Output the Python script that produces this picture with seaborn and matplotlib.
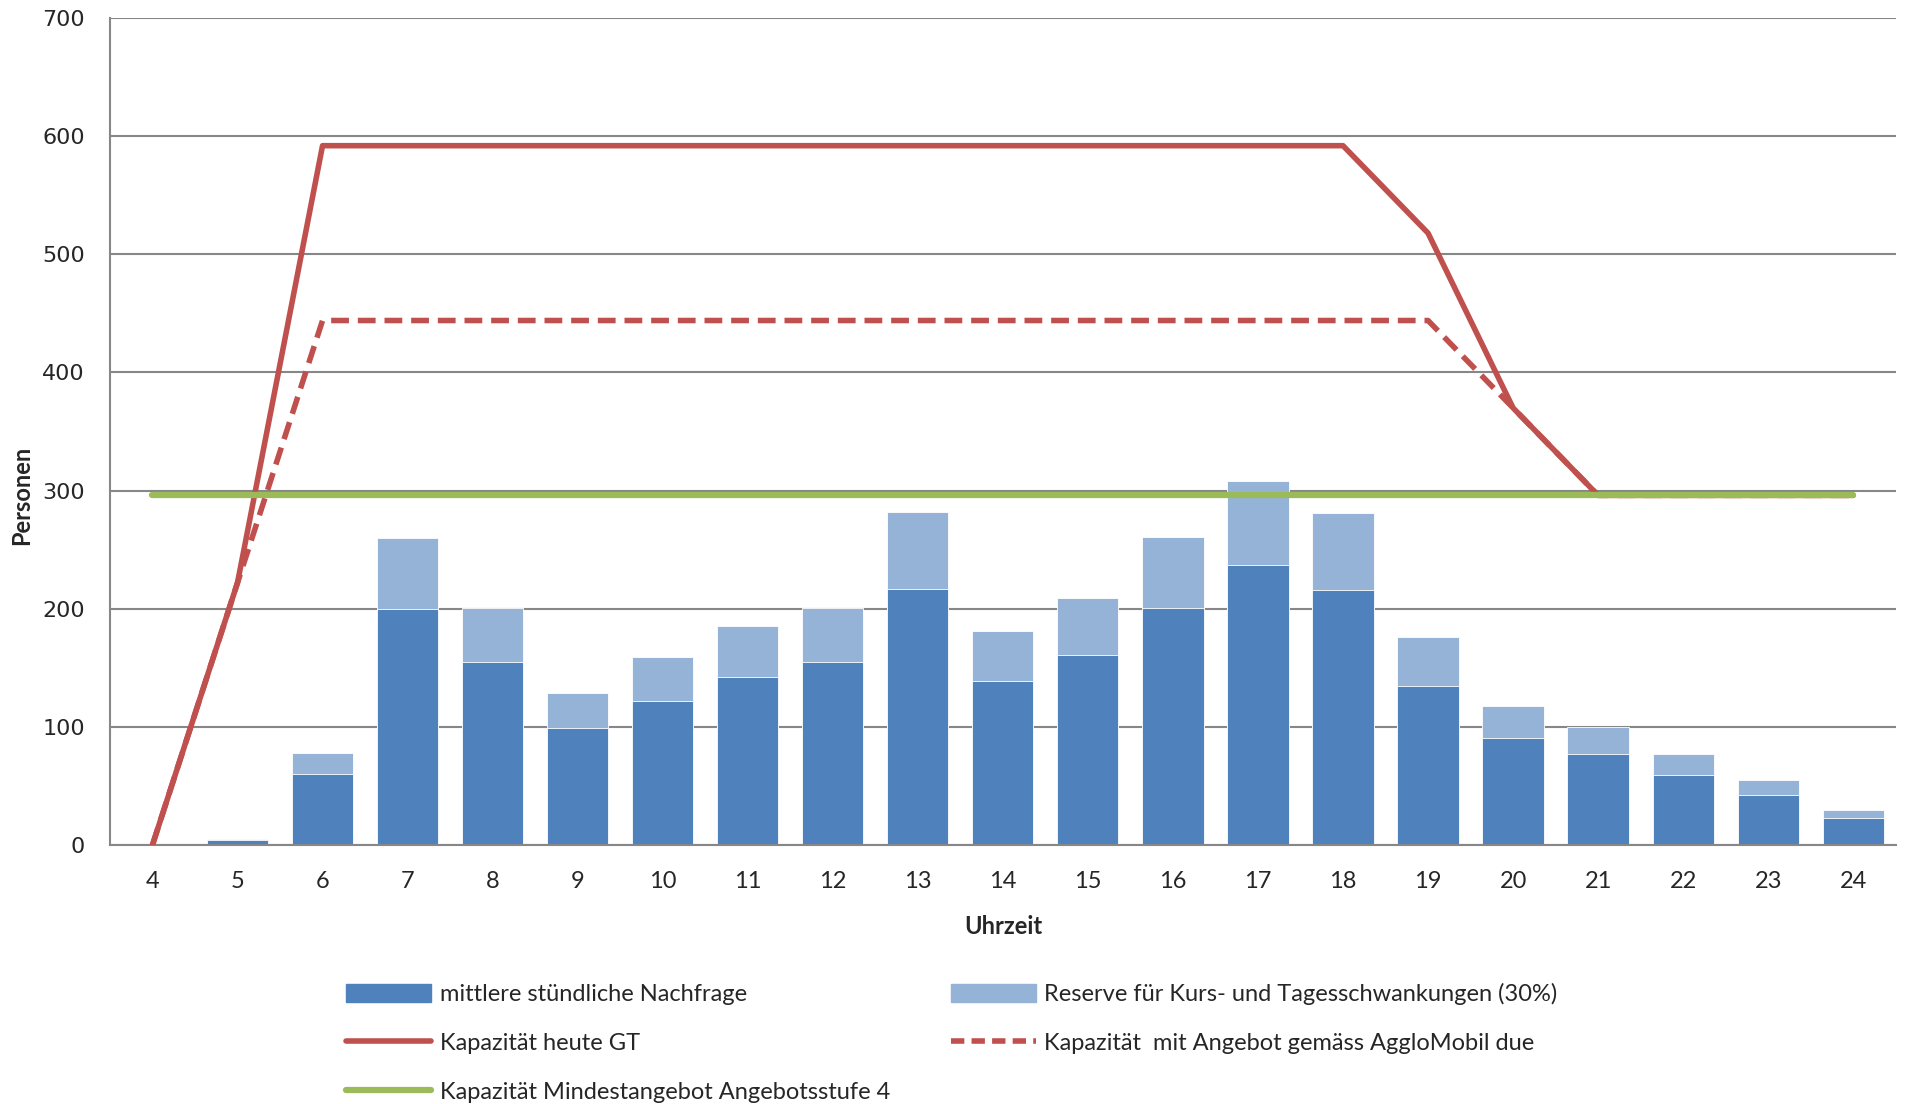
import numpy as np
import pandas as pd
import seaborn as sns
import matplotlib.pyplot as plt
from matplotlib.patches import Patch
from matplotlib.lines import Line2D

# data
hours = [4, 5, 6, 7, 8, 9, 10, 11, 12, 13, 14, 15, 16, 17, 18, 19, 20, 21, 22, 23, 24]
demand = [0, 4, 60, 200, 155, 99, 122, 142, 155, 217, 139, 161, 201, 237, 216, 135, 91, 77, 59, 42, 23]
reserve = [0, 1.5, 18, 60, 46, 30, 37, 43, 46, 65, 42, 48, 60, 71, 65, 41, 27, 23, 18, 13, 7]
cap_today = [0, 222, 592, 592, 592, 592, 592, 592, 592, 592, 592, 592, 592, 592, 592, 518, 370, 296, 296, 296, 296]
cap_agglo = [0, 222, 444, 444, 444, 444, 444, 444, 444, 444, 444, 444, 444, 444, 444, 444, 370, 296, 296, 296, 296]
cap_min = [296] * 21

c_demand = '#4F81BD'
c_reserve = '#95B3D7'
c_red = '#C0504D'
c_green = '#9BBB59'
c_grid = '#878787'

sns.set_style('white')
plt.rcParams['font.family'] = ['Lato', 'DejaVu Sans']

df = pd.DataFrame({'hour': hours, 'demand': demand, 'reserve': reserve,
                   'today': cap_today, 'agglo': cap_agglo, 'min': cap_min})
df['total'] = df['demand'] + df['reserve']

fig = plt.figure(figsize=(19.12, 11.04), dpi=100)
ax = fig.add_axes([0.0575, 0.2346, 0.934, 0.749])

sns.barplot(data=df, x='hour', y='total', native_scale=True, color=c_reserve,
            saturation=1, width=0.72, edgecolor='white', linewidth=0.6, ax=ax, zorder=2)
sns.barplot(data=df, x='hour', y='demand', native_scale=True, color=c_demand,
            saturation=1, width=0.72, edgecolor='white', linewidth=0.6, ax=ax, zorder=2)

sns.lineplot(data=df, x='hour', y='today', color=c_red, lw=4, ax=ax, zorder=3)
sns.lineplot(data=df, x='hour', y='agglo', color=c_red, lw=4, ax=ax, zorder=3,
             dashes=False, linestyle=(0, (3.2, 1.6)))
sns.lineplot(data=df, x='hour', y='min', color=c_green, lw=4.5, ax=ax, zorder=4,
             solid_capstyle='round')

ax.set_xlim(3.5, 24.5)
ax.set_ylim(0, 700)
ax.set_yticks(range(0, 701, 100))
ax.set_xticks(hours)
ax.set_xticks(np.arange(3.5, 25, 1), minor=True)
ax.tick_params(axis='x', which='major', length=0, pad=19, labelsize=17)
ax.tick_params(axis='x', which='minor', length=8, width=1.5, color=c_grid, direction='out')
ax.tick_params(axis='y', length=8, width=1.5, color=c_grid, direction='out', pad=10)
for lab in ax.get_yticklabels():
    lab.set_fontfamily('DejaVu Sans')
    lab.set_fontsize(16)
ax.grid(axis='y', color=c_grid, lw=1.5, zorder=0)
ax.set_axisbelow(True)
for s in ['top', 'right']:
    ax.spines[s].set_visible(False)
for s in ['left', 'bottom']:
    ax.spines[s].set_color(c_grid)
    ax.spines[s].set_linewidth(1.5)

ax.set_xlabel('Uhrzeit', fontsize=17, fontweight='bold', labelpad=16)
ax.set_ylabel('Personen', fontsize=17, fontweight='bold')
ax.yaxis.set_label_coords(-0.043, 0.423)

handles = [
    Patch(color=c_demand, label='mittlere stündliche Nachfrage'),
    Line2D([], [], color=c_red, lw=4, label='Kapazität heute GT'),
    Line2D([], [], color=c_green, lw=4.5, label='Kapazität Mindestangebot Angebotsstufe 4'),
    Patch(color=c_reserve, label='Reserve für Kurs- und Tagesschwankungen (30%)'),
    Line2D([], [], color=c_red, lw=4, linestyle=(0, (2.4, 1.3)), label='Kapazität  mit Angebot gemäss AggloMobil due'),
]
fig.legend(handles=handles, ncol=2, loc='upper left', bbox_to_anchor=(0.17, 0.129),
           frameon=False, fontsize=17, handlelength=3.6, handleheight=0.8,
           handletextpad=0.35, labelspacing=1.17, columnspacing=2.6)

fig.savefig('out.png', dpi=100)
